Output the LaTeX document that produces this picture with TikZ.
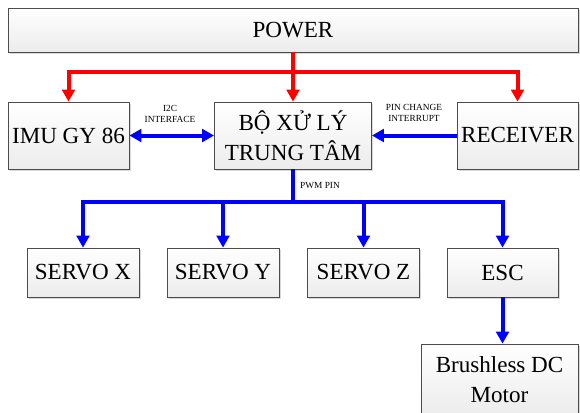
\documentclass[tikz,border=0pt]{standalone}
\usepackage{fontspec}
\setmainfont{Liberation Serif}
\usetikzlibrary{arrows.meta,shadows}

\begin{document}
\begin{tikzpicture}[x=0.75pt,y=-0.75pt,line width=.6pt,
  blk/.style={draw=gray!60!black,top color=white,bottom color=gray!15,inner sep=0pt,align=center,
    font=\fontsize{17.3}{22.5}\selectfont,
    drop shadow={shadow xshift=1.2pt,shadow yshift=-1.2pt,fill=gray!60,opacity=.5}},
  pwr/.style={red,line width=3pt,-{Triangle[length=9pt,width=9.5pt]}},
  sig/.style={blue,line width=3pt,-{Triangle[length=9pt,width=9.5pt]}},
  lbl/.style={font=\fontsize{7}{8.5}\selectfont,align=center,inner sep=0pt}]
\path[use as bounding box] (0,0) rectangle (580,412);
% blocks
\node[blk,minimum width=427.5pt,minimum height=33pt] (power) at (293,30) {POWER};
\node[blk,minimum width=90.75pt,minimum height=50.25pt] (imu) at (68.5,135.5) {IMU GY 86};
\node[blk,minimum width=117.75pt,minimum height=50.25pt] (cpu) at (293,135.5) {BỘ XỬ LÝ\\TRUNG TÂM};
\node[blk,minimum width=90.75pt,minimum height=50.25pt] (rcv) at (517.5,135.5) {RECEIVER};
\node[blk,minimum width=84pt,minimum height=36.75pt] (srvx) at (83,272.5) {SERVO X};
\node[blk,minimum width=84pt,minimum height=36.75pt] (srvy) at (223,272.5) {SERVO Y};
\node[blk,minimum width=84pt,minimum height=36.75pt] (srvz) at (363.5,272.5) {SERVO Z};
\node[blk,minimum width=83.25pt,minimum height=36.75pt] (esc) at (502.5,272.5) {ESC};
\node[blk,minimum width=117.75pt,minimum height=54pt] (bldc) at (499.5,380) {Brushless DC\\Motor};
% labels
\node[lbl] (i2c) at (170,114) {I2C\\INTERFACE};
\node[lbl] (pcint) at (414,113) {PIN CHANGE\\INTERRUPT};
\node[lbl] (pwm) at (320,186) {PWM PIN};
% power lines
\coordinate (pj) at (293,72);
\draw[red,line width=3pt] (power) -- (pj);
\draw[pwr] (pj) -| (imu);
\draw[pwr] (pj) -- (cpu);
\draw[pwr] (pj) -| (rcv);
% signal lines
\draw[sig,{Triangle[length=9pt,width=9.5pt]}-{Triangle[length=9pt,width=9.5pt]}] (imu) -- (cpu);
\draw[sig] (rcv) -- (cpu);
\coordinate (bj) at (293,202);
\draw[blue,line width=3pt] (cpu) -- (bj);
\draw[sig] (bj) -| (srvx);
\draw[sig] (bj) -| (srvy);
\draw[sig] (bj) -| (srvz);
\draw[sig] (bj) -| (esc);
\draw[sig] (esc) -- (esc |- bldc.north);
\end{tikzpicture}
\end{document}
